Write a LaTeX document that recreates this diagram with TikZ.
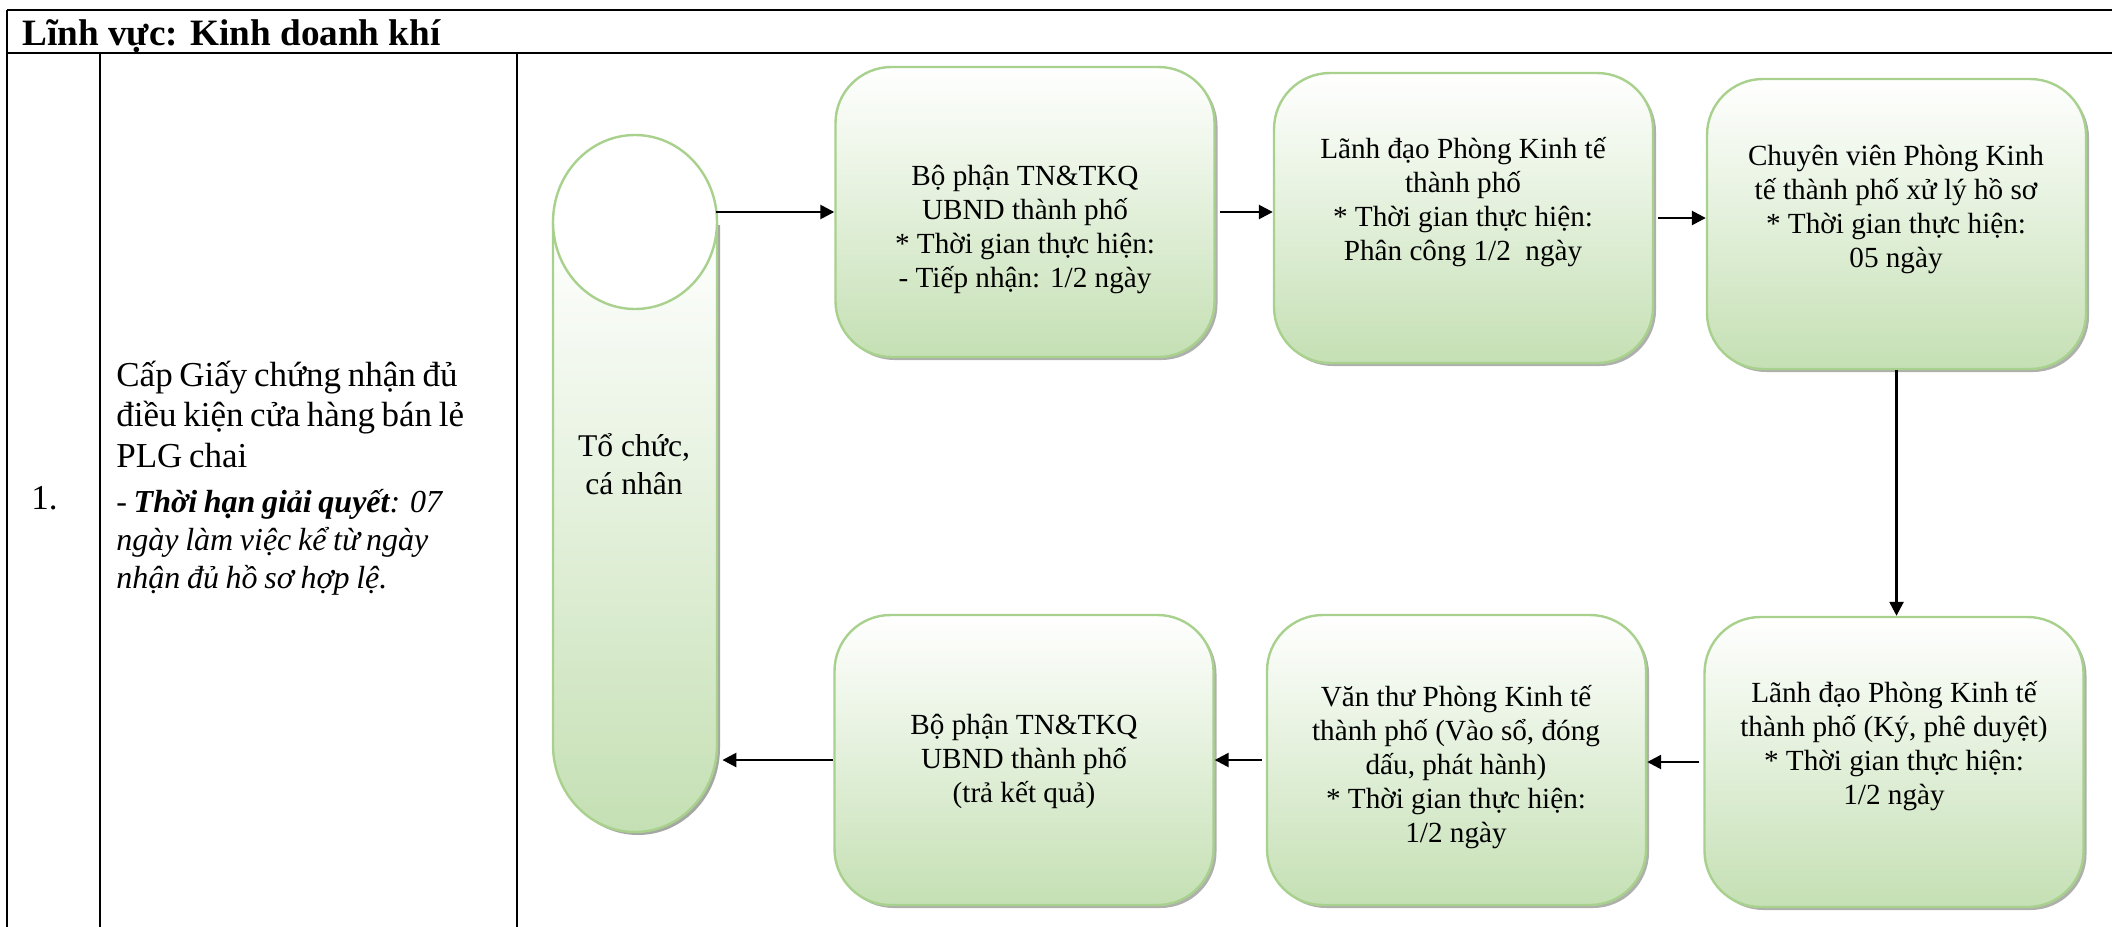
\documentclass[tikz,border=0pt]{standalone}
\usepackage{fontspec}
\setmainfont{Liberation Serif}
\usepackage{tikz}
\usetikzlibrary{arrows.meta}
\usetikzlibrary{shadows}
\definecolor{edgegreen}{HTML}{A9D18E}
\definecolor{fillgreen}{HTML}{C5E0B4}
\definecolor{shadowgray}{HTML}{A5A8A2}
\tikzset{stage/.style={draw=edgegreen,line width=1.2pt,rounded corners=28pt,
                       top color=white,bottom color=fillgreen,
                       minimum width=189.5pt,minimum height=145pt,
                       drop shadow={shadow xshift=1.5pt,shadow yshift=-1.5pt,
                                    fill=shadowgray,opacity=0.9}}}
\tikzset{stagetext/.style={align=center,inner sep=0pt,
                           font=\fontsize{14.6pt}{17pt}\selectfont}}
\tikzset{can/.style={draw=edgegreen,line width=1.2pt}}
\tikzset{flow/.style={-{Triangle[length=7pt,width=7pt]},line width=1.3pt}}
\tikzset{tableline/.style={line width=1.2pt}}

\begin{document}
\begin{tikzpicture}[x=0.5pt,y=-0.5pt]
    \useasboundingbox (0,0) rectangle (2112,926);
    % table
    \draw[tableline] (7,10) -- (2113,10) (7,53) -- (2113,53);
    \draw[tableline] (7,10) -- (7,53);
    \foreach \x in {7,100,517}{%
          \draw[tableline] (\x,53) -- (\x,927);
        }
    \node[anchor=base west,inner sep=0pt,
          font=\fontsize{18.6pt}{22pt}\selectfont\bfseries] (title) at (22,45)
          {Lĩnh vực: Kinh doanh khí};
    \node[anchor=base west,inner sep=0pt,
          font=\fontsize{17.5pt}{20.25pt}\selectfont] (no) at (31,509) {1.};
    \node[anchor=base west,inner sep=0pt,text width=200pt,align=left] (task) at (116,386)
          {\fontsize{17.5pt}{20.25pt}\selectfont
           Cấp Giấy chứng nhận đủ\\điều kiện cửa hàng bán lẻ\\PLG chai\par
           \vspace{3.5pt}\fontsize{16pt}{19pt}\selectfont\itshape
           - \textbf{Thời hạn giải quyết}: 07\\ngày làm việc kể từ ngày\\nhận đủ hồ sơ hợp lệ.\par};
    % applicant
    \fill[shadowgray,xshift=1.5pt,yshift=-1.5pt] (553,222) -- (553,745)
          arc[start angle=180,end angle=0,x radius=82,y radius=87] -- (717,222) -- cycle;
    \draw[can,top color=white,bottom color=fillgreen] (553,222) -- (553,745)
          arc[start angle=180,end angle=0,x radius=82,y radius=87] -- (717,222) -- cycle;
    \draw[can,fill=white] (635,222) ellipse [x radius=82,y radius=87];
    \node[align=center,minimum width=82pt,
          font=\fontsize{15.8pt}{19pt}\selectfont] (org) at (634,464) {Tổ chức,\\cá nhân};
    % steps
    \node[stage] (b1) at (1025,212) {};
    \node[stage] (b2) at (1463.5,218) {};
    \node[stage] (b3) at (1896.5,224) {};
    \node[stage] (b4) at (1894,762) {};
    \node[stage] (b5) at (1456.5,760) {};
    \node[stage] (b6) at (1024,760) {};
    \node[stagetext] (t1) at (1025,229)
          {Bộ phận TN\&TKQ\\UBND thành phố\\* Thời gian thực hiện:\\- Tiếp nhận: 1/2 ngày};
    \node[stagetext] (t2) at (1463,202)
          {Lãnh đạo Phòng Kinh tế\\thành phố\\* Thời gian thực hiện:\\Phân công 1/2~ ngày};
    \node[stagetext] (t3) at (1896,209)
          {Chuyên viên Phòng Kinh\\tế thành phố xử lý hồ sơ\\* Thời gian thực hiện:\\05 ngày};
    \node[stagetext] (t4) at (1894,746)
          {Lãnh đạo Phòng Kinh tế\\thành phố (Ký, phê duyệt)\\* Thời gian thực hiện:\\1/2 ngày};
    \node[stagetext] (t5) at (1456,767)
          {Văn thư Phòng Kinh tế\\thành phố (Vào sổ, đóng\\dấu, phát hành)\\* Thời gian thực hiện:\\1/2 ngày};
    \node[stagetext] (t6) at (1024,761)
          {Bộ phận TN\&TKQ\\UBND thành phố\\(trả kết quả)};
    % arrows
    \draw[flow] (org.east |- b1.west) -- (b1.west);
    \foreach \src/\dst in {b1/b2,b2/b3}{%
          \draw[flow,shorten <=2pt] (\src.east) -- (\src.east -| \dst.west);
        }
    \draw[flow] (b3.south) -- (b3.south |- b4.north);
    \foreach \src/\dst in {b4/b5,b5/b6}{%
          \draw[flow,shorten <=2pt] (\src.west) -- (\src.west -| \dst.east);
        }
    \draw[flow,shorten >=3pt] (b6.west) -- (org.east |- b6.west);
\end{tikzpicture}
\end{document}
